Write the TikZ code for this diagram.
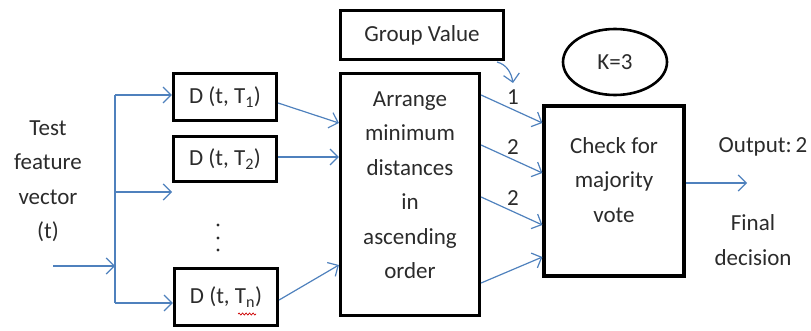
\documentclass[tikz,border=0pt]{standalone}
\usepackage{fontspec}
\setmainfont{Carlito}
\usetikzlibrary{arrows.meta,shapes.geometric,decorations.pathmorphing}
\definecolor{flow}{HTML}{4F81BD}
\definecolor{ink}{HTML}{2B2B2B}
\begin{document}
\begin{tikzpicture}[x=1pt,y=-1pt,
  box/.style={draw=black,line width=3.2pt,inner sep=0pt,text=ink,
    font=\fontsize{23}{34.5}\selectfont},
  txt/.style={text=ink,font=\fontsize{23}{34.5}\selectfont,align=center,inner sep=0pt},
  arr/.style={draw=flow,line width=1.2pt,-{Straight Barb[length=8pt,width=16pt]}},
  trunk/.style={draw=flow,line width=1.2pt}]
\useasboundingbox (0,0) rectangle (811,331);

% input label
\node[txt] (tv) at (48,181) {Test\\feature\\vector\\(t)};

% distance boxes
\node[box,minimum width=103pt,minimum height=47pt] (d1) at (225,97) {D (t, T\textsubscript{1})};
\node[box,minimum width=103pt,minimum height=45pt] (d2) at (225,159) {D (t, T\textsubscript{2})};
\node[box,minimum width=103pt,minimum height=57pt] (dn) at (226,297) {D (t, T\textsubscript{n})};
\draw[red!80!black,line width=0.7pt,decorate,
  decoration={snake,amplitude=1pt,segment length=3.5pt}] (238,314) -- (256,314);

% vertical ellipsis between the boxes
\foreach \yy in {225,238,250} \fill[ink] (218,\yy) circle (1.6pt);

% sorting, grouping and voting blocks
\node[box,minimum width=139pt,minimum height=242pt] (ar) at (410,194.5) {};
\node[txt] (art) at (410,185) {Arrange\\minimum\\distances\\in\\ascending\\order};
\node[box,minimum width=163pt,minimum height=49pt] (gv) at (422,35) {Group Value};
\node[box,ellipse,minimum width=104pt,minimum height=66pt,line width=2.6pt] (k) at (615,62) {K=3};
\node[box,minimum width=140pt,minimum height=170pt] (ck) at (614,191) {};
\node[txt] (ckt) at (614,180) {Check for\\majority\\vote};

% output labels
\node[txt] (out) at (763,147) {Output:\,2};
\node[txt] (fd) at (753,240) {Final\\decision};

% fan-out of the test vector
\coordinate (in) at (53,266);
\coordinate (tt) at (115,95);
\coordinate (tm) at (115,192);
\coordinate (tb) at (115,303);
\coordinate (free) at (172,192);
\draw[arr] (in) -- (in -| tt);
\draw[trunk] (tt) -- (tb);
\draw[arr] (tt) -- (tt -| d1.west);
\draw[arr] (tm) -- (free);
\draw[arr] (tb) -- (tb -| dn.west);

% distances into the sorter
\draw[arr] (d1.east |- 0,103) -- (ar.west |- 0,123);
\draw[arr] (d2.east |- 0,157) -- (ar.west |- 0,157);
\draw[arr] (dn.east |- 0,300) -- (ar.west |- 0,265);

% group value into the vote
\draw[arr] (497,62) to[out=-15,in=100] (513,83);

% sorted neighbours into the vote
\draw[arr] (ar.east |- 0,95) -- (ck.west |- 0,123);
\draw[arr] (ar.east |- 0,145) -- (ck.west |- 0,173);
\draw[arr] (ar.east |- 0,197) -- (ck.west |- 0,225);
\draw[arr] (ar.east |- 0,283) -- (ck.west |- 0,257);
\node[txt] (n1) at (513,97) {1};
\node[txt] (n2) at (513,147) {2};
\node[txt] (n3) at (513,198) {2};

% decision
\coordinate (res) at (747,183);
\draw[arr] (ck.east |- res) -- (res);
\end{tikzpicture}
\end{document}
